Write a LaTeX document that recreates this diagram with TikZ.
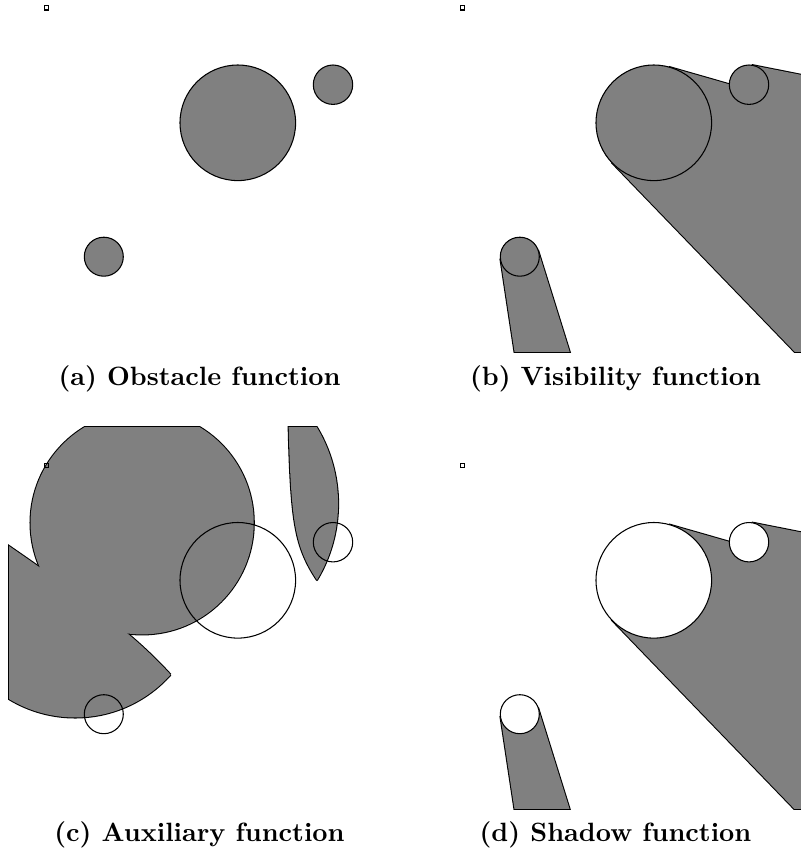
\documentclass[tikz,border=0pt]{standalone}
\usetikzlibrary{calc}

% one panel, in pixels, y pointing down
\newcommand{\frameP}{(8,-31) rectangle (388,352.3)}
\newcommand{\frameQ}{(9.1,-29.9) rectangle (386.9,351.2)}
\newcommand{\discs}{(237.8,122.8) circle[radius=57.8] (333,84.7) circle[radius=19.7] (103.8,256.7) circle[radius=19.5]}
% shadow wedges behind the discs, seen from the observer
\newcommand{\rays}[1]{%
  \begin{scope}[shift={(46.5,7.8)}]
    \path[#1] (16.0:215.6) -- (16.0:1200) -- (46.0:1200) -- (46.0:215.6) -- cycle
              (11.2:295.9) -- (11.2:1200) -- (18.8:1200) -- (18.8:295.9) -- cycle
              (72.7:254.7) -- (72.7:1200) -- (81.4:1200) -- (81.4:254.7) -- cycle;
  \end{scope}}
% circles on observer and centre as diameter
\newcommand{\thalesA}{(142.15,65.3) circle[radius=111.6]}
\newcommand{\thalesB}{(189.75,46.25) circle[radius=148.3]}
\newcommand{\thalesC}{(75.15,132.25) circle[radius=127.7]}
% borders between the zones of the discs
\newcommand{\hypB}{plot[domain=60:256,samples=120] ({333+sB(\x)*cos(\x)},{84.7+sB(\x)*sin(\x)})}
\newcommand{\hypC}{plot[domain=225:405,samples=120] ({103.8+sC(\x)*cos(\x)},{256.7+sC(\x)*sin(\x)})}
\newcommand{\cellB}{\hypB -- (-150.8,-1855.9) -- (2187.4,-664.5) -- (1333,1816.7) -- cycle}
\newcommand{\cellC}{\hypC -- (1518,1670.9) -- (-1310.4,1670.9) -- (-1310.4,-1157.5) -- cycle}
\newcommand{\auxfill}[1]{%
  \fill[#1] \thalesA;
  \begin{scope} \clip \cellB; \fill[#1] \thalesB; \end{scope}
  \begin{scope} \clip \cellC; \fill[#1] \thalesC; \end{scope}}

\begin{document}
\begin{tikzpicture}[
  x=0.378pt, y=-0.378pt,
  obstacle/.style={fill=gray, draw=black, line width=0.4pt},
  rim/.style={draw=black, line width=0.4pt},
  contour/.style={draw=black, line width=0.8pt},
  viewer/.style={rectangle, draw=black, line width=0.45pt, minimum size=1.6pt, inner sep=0pt},
  caption/.style={font=\bfseries, anchor=base},
  declare function={sB(\t)=453.15/(3.81-9.52*cos(\t)+3.81*sin(\t));
                    sC(\t)=1720.9/(3.83+13.4*cos(\t)-13.39*sin(\t));},
]
\useasboundingbox (0,0) rectangle (800,855);

% (a) obstacles
\draw[obstacle] \discs;
\node[viewer] (obsA) at (46.5,7.8) {};

% (b) visibility
\begin{scope}[shift={(416,0)}]
  \begin{scope}
    \clip \frameP;
    \rays{contour}
    \rays{fill=black}
    \fill[black] \discs;
  \end{scope}
  \begin{scope}
    \clip \frameQ;
    \rays{fill=gray}
    \fill[gray] \discs;
  \end{scope}
  \draw[rim] \discs;
  \node[viewer] (obsB) at (46.5,7.8) {};
\end{scope}

% (c) auxiliary
\begin{scope}[shift={(0,457.5)}]
  \begin{scope}
    \clip \frameP;
    \draw[contour] \thalesA;
    \begin{scope} \clip \cellB; \draw[contour] \thalesB; \end{scope}
    \begin{scope} \clip \thalesB; \draw[contour] \hypB; \end{scope}
    \begin{scope} \clip \cellC; \draw[contour] \thalesC; \end{scope}
    \begin{scope} \clip \thalesC; \draw[contour] \hypC; \end{scope}
    \auxfill{black}
  \end{scope}
  \begin{scope}
    \clip \frameQ;
    \auxfill{gray}
  \end{scope}
  \draw[rim] \discs;
  \node[viewer] (obsC) at (46.5,7.8) {};
\end{scope}

% (d) shadow
\begin{scope}[shift={(416,457.5)}]
  \begin{scope}
    \clip \frameP;
    \rays{contour}
    \rays{fill=black}
  \end{scope}
  \begin{scope}
    \clip \frameQ;
    \rays{fill=gray}
  \end{scope}
  \draw[rim, fill=white] \discs;
  \node[viewer] (obsD) at (46.5,7.8) {};
\end{scope}

% Labels
\node[caption] (capA) at (199.5,385.5) {(a) Obstacle function};
\node[caption] (capB) at (615.5,385.5) {(b) Visibility function};
\node[caption] (capC) at (199.5,841) {(c) Auxiliary function};
\node[caption] (capD) at (615.5,841) {(d) Shadow function};

\end{tikzpicture}
\end{document}
